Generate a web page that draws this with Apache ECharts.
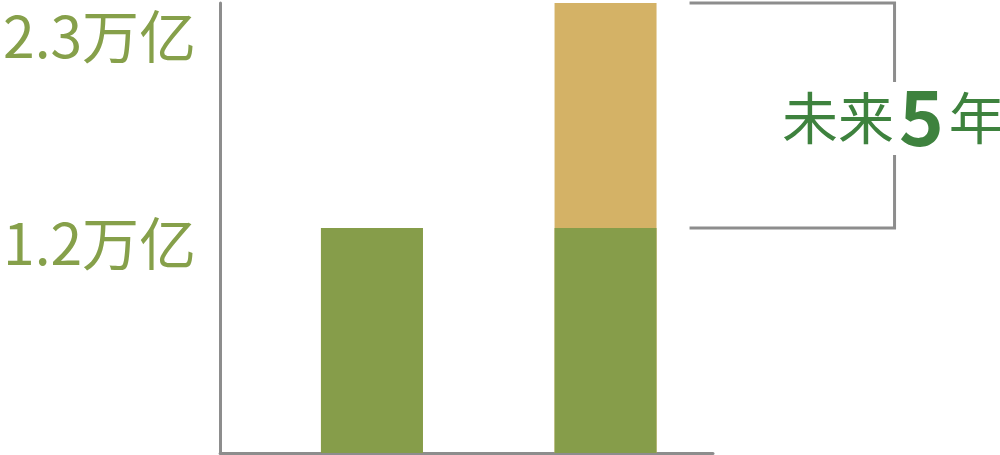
<!DOCTYPE html>
<html><head><meta charset="utf-8">
<script src="https://cdn.jsdelivr.net/npm/echarts@6/dist/echarts.min.js"></script>
<style>html,body{margin:0;padding:0;background:#fff}#c{width:1000px;height:455px}</style>
</head><body><div id="c"></div>
<script>
var categories = ['现在', '未来5年'];
var baseValues = [1.2, 1.2];          // 万亿, green part
var growthValues = [0, 1.2];          // 万亿, tan part (as drawn)
var tickValues = [1.2, 2.3];          // labelled levels
var tickUnit = '万亿';
var bracketLabel = ['未来', '5', '年'];

var chart = echarts.init(document.getElementById('c'));
var FONT = '"Noto Sans CJK SC", "Noto Sans", sans-serif';
chart.setOption({
  animation: false,
  grid: { left: 217, top: 3, width: 496, bottom: 2 },
  xAxis: {
    type: 'value', min: -0.65, max: 1.46,
    splitLine: { show: false }, axisTick: { show: false }, axisLabel: { show: false },
    axisLine: { show: true, onZero: false, lineStyle: { color: '#8d8d8d', width: 3 } }
  },
  yAxis: {
    type: 'value', min: 0, max: 2.4,
    splitLine: { show: false }, axisTick: { show: false },
    axisLine: { show: true, onZero: false, lineStyle: { color: '#8d8d8d', width: 3 } },
    axisLabel: {
      customValues: tickValues,
      formatter: function (v) { return v + tickUnit; },
      color: '#86a04a', fontSize: 57, fontFamily: FONT, margin: 24,
      verticalAlign: 'top', lineHeight: 30
    }
  },
  series: [
    // tan: top of stack (base + growth), drawn underneath
    { type: 'bar', barWidth: 102, barGap: '-100%', z: 1, itemStyle: { color: '#d4b266' },
      data: growthValues.map(function (v, i) { return [i, baseValues[i] + v]; }) },
    // green: base part, drawn over the lower portion
    { type: 'bar', barWidth: 102, barGap: '-100%', z: 2, itemStyle: { color: '#869d4a' },
      data: baseValues.map(function (v, i) { return [i, v]; }) }
  ]
});

var i2 = categories.length - 1;
var topVal = baseValues[i2] + growthValues[i2];
var pTop = chart.convertToPixel({ gridIndex: 0 }, [i2, topVal]);
var pMid = chart.convertToPixel({ gridIndex: 0 }, [i2, baseValues[i2]]);
var xL = pTop[0] + 84, xR = pTop[0] + 289;
var yT = pTop[1], yB = pMid[1];
var gapT = 82, gapB = 155;
var ls = { stroke: '#8d8d8d', lineWidth: 3, fill: null };
chart.setOption({
  graphic: [
    { type: 'polyline', shape: { points: [[xL, yT], [xR, yT], [xR, gapT]] }, style: ls },
    { type: 'polyline', shape: { points: [[xR, gapB], [xR, yB], [xL, yB]] }, style: ls },
    { type: 'text', x: 782, y: (gapT + gapB) / 2 - 1,
      style: {
        text: '{a|' + bracketLabel[0] + '}{s|}{b|' + bracketLabel[1] + '}{s|}{a|' + bracketLabel[2] + '}',
        verticalAlign: 'middle',
        rich: {
          a: { fontSize: 56, fontFamily: FONT, fill: '#3e823e' },
          b: { fontSize: 76, fontWeight: 'bold', fontFamily: FONT, fill: '#3e823e' },
          s: { width: 5 }
        }
      }
    }
  ]
});
</script></body></html>
